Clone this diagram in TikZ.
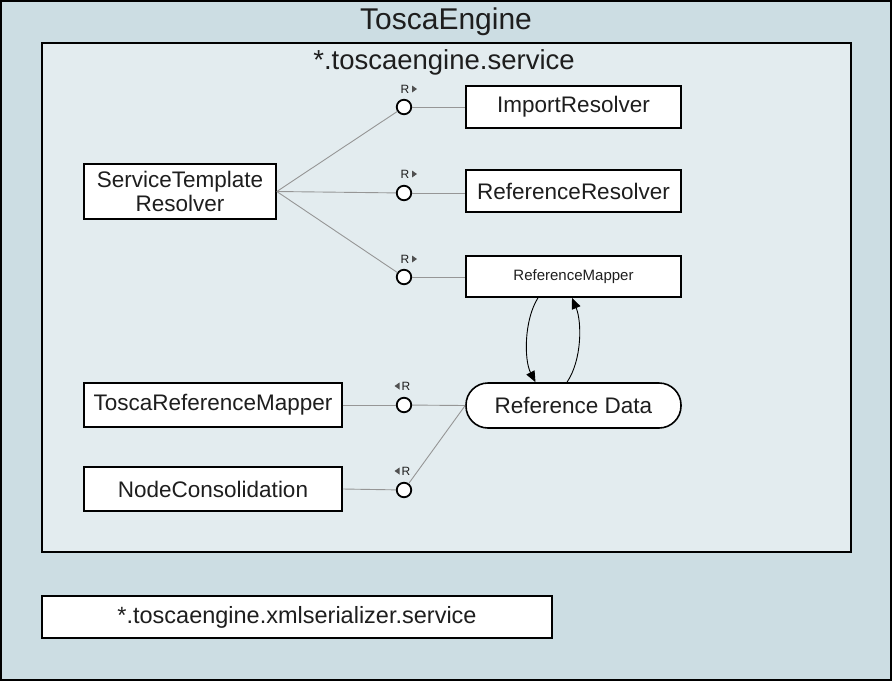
\documentclass[tikz,border=0pt]{standalone}
\usepackage{fontspec}
\setmainfont{Liberation Sans}
\usetikzlibrary{arrows.meta}
\definecolor{outerbg}{RGB}{204,221,227}
\definecolor{innerbg}{RGB}{227,236,239}
\definecolor{txt}{RGB}{30,30,30}
\definecolor{conn}{RGB}{150,150,150}
\definecolor{tri}{RGB}{80,80,80}
\tikzset{
  box/.style={draw=black, line width=1.6pt, fill=white, minimum width=215pt, minimum height=42pt, inner sep=2pt, align=center, text=txt, font=\fontsize{22.5}{24}\selectfont},
  port/.style={circle, draw=black, line width=1.8pt, fill=white, minimum size=14.5pt, inner sep=0pt},
  conline/.style={draw=conn, line width=0.9pt},
  flow/.style={draw=black, line width=0.9pt, -{Triangle[length=11pt,width=9pt]}},
  rlabel/.style={text=txt, font=\fontsize{12}{14}\selectfont, inner sep=0pt},
  tritip/.style={fill=tri},
}
\begin{document}
\begin{tikzpicture}[x=1pt,y=-1pt]
\useasboundingbox (0,0) rectangle (892,681);
% outer package
\draw[fill=outerbg, line width=2pt] (1,1) rectangle (891,680);
\node[text=txt, font=\fontsize{30}{34}\selectfont] (title) at (446,22) {ToscaEngine};
% inner package
\draw[fill=innerbg, line width=2pt] (42,43) rectangle (851,552);
\node[text=txt, font=\fontsize{27.5}{30}\selectfont] (svc) at (444,62) {*.toscaengine.service};

% components
\node[box, minimum width=192pt, minimum height=55pt, font=\fontsize{22.5}{24}\selectfont] (st) at (180,191.5) {ServiceTemplate\\Resolver};
\node[box] (ir) at (573.5,107) {ImportResolver};
\node[box] (rr) at (573.5,191) {ReferenceResolver};
\node[box, minimum height=41pt, font=\fontsize{15}{17}\selectfont] (rm) at (573.5,276.5) {ReferenceMapper};
\node[box, minimum height=45pt, rounded corners=22pt] (rd) at (573.5,405.5) {Reference Data};
\node[box, minimum width=258pt, minimum height=44pt] (tm) at (213,405) {ToscaReferenceMapper};
\node[box, minimum width=258pt, minimum height=44pt] (nc) at (213,489) {NodeConsolidation};
\node[box, minimum width=510pt, minimum height=42pt, font=\fontsize{23.5}{25}\selectfont] (xs) at (297,617) {*.toscaengine.xmlserializer.service};

% ports
\node[port] (c1) at (404,107) {};
\node[port] (c2) at (404,193) {};
\node[port] (c3) at (404,277) {};
\node[port] (c4) at (404,405) {};
\node[port] (c5) at (404,490) {};

% port labels
\node[rlabel] (r1) at (405,89) {R};
\node[rlabel] (r2) at (405,174) {R};
\node[rlabel] (r3) at (405,259) {R};
\node[rlabel] (r4) at (406,386) {R};
\node[rlabel] (r5) at (406,471) {R};
\fill[tritip] (412,85.5) -- (417,89) -- (412,92.5) -- cycle;
\fill[tritip] (412,170.5) -- (417,174) -- (412,177.5) -- cycle;
\fill[tritip] (412,255.5) -- (417,259) -- (412,262.5) -- cycle;
\fill[tritip] (399.5,382.5) -- (394.5,386) -- (399.5,389.5) -- cycle;
\fill[tritip] (399.5,467.5) -- (394.5,471) -- (399.5,474.5) -- cycle;

% connectors
\draw[conline] (st.east) -- (c1);
\draw[conline] (st.east) -- (c2);
\draw[conline] (st.east) -- (c3);
\draw[conline] (c1) -- (c1 -| ir.west);
\draw[conline] (c2) -- (c2 -| rr.west);
\draw[conline] (c3) -- (c3 -| rm.west);
\draw[conline] (tm.east) -- (c4);
\draw[conline] (c4) -- (rd.west);
\draw[conline] (nc.east) -- (c5);
\draw[conline] (c5) -- (rd.west);

% flows between mapper and data
\draw[flow] ([xshift=-35.5pt]rm.south) .. controls (524,320) and (524,360) .. ([xshift=-38pt]rd.north);
\draw[flow] ([xshift=-6.5pt]rd.north) .. controls (582,360) and (582,322) .. ([xshift=-1.5pt]rm.south);
\end{tikzpicture}
\end{document}
